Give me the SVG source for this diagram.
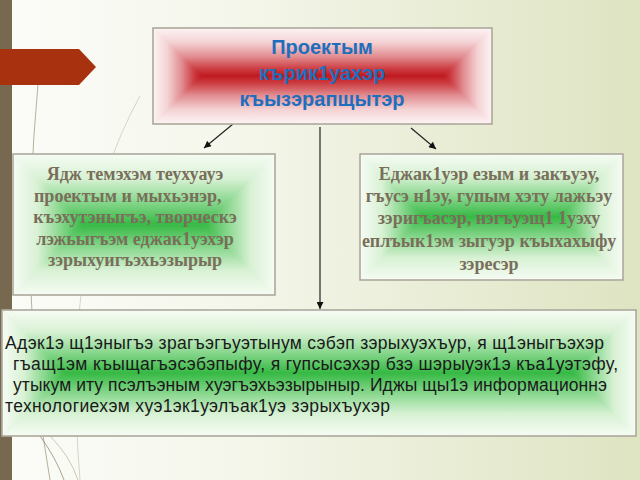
<svg xmlns="http://www.w3.org/2000/svg" width="640" height="480" viewBox="0 0 640 480">
<defs>
<linearGradient id="bg" x1="0" y1="0" x2="1" y2="0">
<stop offset="0" stop-color="#fbfcf8"/>
<stop offset="0.35" stop-color="#f5f7ec"/>
<stop offset="1" stop-color="#dee4c2"/>
</linearGradient>
<linearGradient id="rd" x1="0" y1="0" x2="0" y2="1">
<stop offset="0" stop-color="#fdf4f4"/>
<stop offset="0.3" stop-color="#f4d2d4"/>
<stop offset="0.6" stop-color="#e18c90"/>
<stop offset="0.85" stop-color="#cc3d42"/>
<stop offset="1" stop-color="#bf1a1f"/>
</linearGradient>
<linearGradient id="ru" href="#rd" x1="0" y1="1" x2="0" y2="0"/>
<linearGradient id="rr" href="#rd" x1="0" y1="0" x2="1" y2="0"/>
<linearGradient id="rl" href="#rd" x1="1" y1="0" x2="0" y2="0"/>
<linearGradient id="gd" x1="0" y1="0" x2="0" y2="1">
<stop offset="0" stop-color="#f6fcf4"/>
<stop offset="0.35" stop-color="#d8f1d4"/>
<stop offset="0.7" stop-color="#82d588"/>
<stop offset="1" stop-color="#36b944"/>
</linearGradient>
<linearGradient id="gu" href="#gd" x1="0" y1="1" x2="0" y2="0"/>
<linearGradient id="gr" href="#gd" x1="0" y1="0" x2="1" y2="0"/>
<linearGradient id="gl" href="#gd" x1="1" y1="0" x2="0" y2="0"/>
<marker id="ah" viewBox="0 0 10 10" refX="10" refY="5" markerWidth="8" markerHeight="7" markerUnits="userSpaceOnUse" orient="auto">
<path d="M0,0 L10,5 L0,10 z" fill="#111"/>
</marker>
</defs>
<style>
.frame{fill:none;stroke:#a8a296;stroke-width:1.5}
.title{font-family:"Liberation Sans",Arial,sans-serif;font-weight:bold;font-size:20px;fill:#1e6ebe;text-anchor:middle}
.serif{font-family:"Liberation Serif","Times New Roman",serif;font-weight:bold;font-size:18px;fill:#786e5a}
.sans{font-family:"Liberation Sans",Arial,sans-serif;font-size:17.5px;fill:#1a1a1a}
.deco{fill:none;stroke:#8a7e62;stroke-width:1}
.conn{stroke:#222;stroke-width:1.2;fill:none}
</style>
<rect x="0" y="0" width="640" height="480" fill="url(#bg)"/>
<g id="decoration">
<path class="deco" d="M38,84 Q18,300 50,480" opacity="0.6"/>
<path class="deco" d="M140,96 Q60,240 80,480" opacity="0.3"/>
<path class="deco" d="M40,436 Q56,458 64,480" opacity="0.7"/>
<path class="deco" d="M50,436 Q70,456 78,480" opacity="0.4"/>
<rect x="0" y="0" width="12" height="480" fill="#76694f"/>
<polygon points="0,49 79,49 96,67 79,85 0,85" fill="#a8310f"/>
</g>
<g id="connectors">
<path class="conn" d="M233,124 L204,148" marker-end="url(#ah)"/>
<path class="conn" d="M411,128 L436,149" marker-end="url(#ah)"/>
<path class="conn" d="M320,127 L320,309" marker-end="url(#ah)"/>
</g>
<g id="node-top">
<polygon points="153,28 492,28 444,76 201,76" fill="url(#rd)" stroke="url(#rd)" stroke-width="0.6"/>
<polygon points="153,124 492,124 444,76 201,76" fill="url(#ru)" stroke="url(#ru)" stroke-width="0.6"/>
<polygon points="153,28 201,76 153,124" fill="url(#rr)" stroke="url(#rr)" stroke-width="0.6"/>
<polygon points="492,28 444,76 492,124" fill="url(#rl)" stroke="url(#rl)" stroke-width="0.6"/>
<rect class="frame" x="153" y="28" width="339" height="96"/>
<text class="title" x="322" y="54">Проектым</text>
<text class="title" x="322" y="80">кърик1уахэр</text>
<text class="title" x="322" y="106">къызэрапщытэр</text>
</g>
<g id="node-left">
<polygon points="13,154 275,154 204.5,224.5 83.5,224.5" fill="url(#gd)" stroke="url(#gd)" stroke-width="0.6"/>
<polygon points="13,295 275,295 204.5,224.5 83.5,224.5" fill="url(#gu)" stroke="url(#gu)" stroke-width="0.6"/>
<polygon points="13,154 83.5,224.5 13,295" fill="url(#gr)" stroke="url(#gr)" stroke-width="0.6"/>
<polygon points="275,154 204.5,224.5 275,295" fill="url(#gl)" stroke="url(#gl)" stroke-width="0.6"/>
<rect class="frame" x="13" y="154" width="262" height="141"/>
<text class="serif" x="135" y="180" text-anchor="middle">Ядж темэхэм теухуауэ</text>
<text class="serif" x="34" y="201.5">проектым и мыхьэнэр,</text>
<text class="serif" x="135" y="223" text-anchor="middle">къэхутэныгъэ, творческэ</text>
<text class="serif" x="135" y="244.5" text-anchor="middle">лэжьыгъэм еджак1уэхэр</text>
<text class="serif" x="135" y="266" text-anchor="middle">зэрыхуигъэхьэзырыр</text>
</g>
<g id="node-right">
<polygon points="360,154 623,154 560,217 423,217" fill="url(#gd)" stroke="url(#gd)" stroke-width="0.6"/>
<polygon points="360,280 623,280 560,217 423,217" fill="url(#gu)" stroke="url(#gu)" stroke-width="0.6"/>
<polygon points="360,154 423,217 360,280" fill="url(#gr)" stroke="url(#gr)" stroke-width="0.6"/>
<polygon points="623,154 560,217 623,280" fill="url(#gl)" stroke="url(#gl)" stroke-width="0.6"/>
<rect class="frame" x="360" y="154" width="263" height="126"/>
<text class="serif" x="489" y="180" text-anchor="middle">Еджак1уэр езым и закъуэу,</text>
<text class="serif" x="489" y="202" text-anchor="middle">гъусэ н1эу, гупым хэту лажьэу</text>
<text class="serif" x="489" y="224" text-anchor="middle">зэригъасэр, нэгъуэщ1 1уэху</text>
<text class="serif" x="489" y="247" text-anchor="middle">еплъык1эм зыгуэр къыхахыфу</text>
<text class="serif" x="489" y="270" text-anchor="middle">зэресэр</text>
</g>
<g id="node-bottom">
<polygon points="2,310 636,310 573,373 65,373" fill="url(#gd)" stroke="url(#gd)" stroke-width="0.6"/>
<polygon points="2,436 636,436 573,373 65,373" fill="url(#gu)" stroke="url(#gu)" stroke-width="0.6"/>
<polygon points="2,310 65,373 2,436" fill="url(#gr)" stroke="url(#gr)" stroke-width="0.6"/>
<polygon points="636,310 573,373 636,436" fill="url(#gl)" stroke="url(#gl)" stroke-width="0.6"/>
<rect class="frame" x="2" y="310" width="634" height="126"/>
<text class="sans" x="5" y="349" textLength="599" lengthAdjust="spacing">Адэк1э щ1эныгъэ зрагъэгъуэтынум сэбэп зэрыхуэхъур, я щ1эныгъэхэр</text>
<text class="sans" x="13" y="370" textLength="605" lengthAdjust="spacing">гъащ1эм къыщагъэсэбэпыфу, я гупсысэхэр бзэ шэрыуэк1э къа1уэтэфу,</text>
<text class="sans" x="13" y="391" textLength="594" lengthAdjust="spacing">утыкум иту псэлъэным хуэгъэхьэзырыныр. Иджы щы1э информационнэ</text>
<text class="sans" x="5" y="412" textLength="385" lengthAdjust="spacing">технологиехэм хуэ1эк1уэлъак1уэ зэрыхъухэр</text>
</g>
</svg>
